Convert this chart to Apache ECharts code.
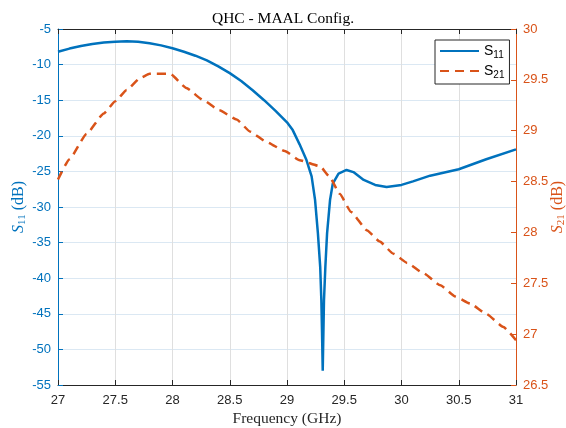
<!DOCTYPE html>
<html><head><meta charset="utf-8">
<script src="https://cdn.jsdelivr.net/npm/echarts@6/dist/echarts.min.js"></script>
<style>html,body{margin:0;padding:0;background:#fff}#c{width:566px;height:428px}</style>
</head><body><div id="c"></div>
<script>
const titleText = 'QHC - MAAL Config.';
const xTicks = [27, 27.5, 28, 28.5, 29, 29.5, 30, 30.5, 31];
const s11Freq = [27.0,27.1,27.2,27.3,27.4,27.5,27.6,27.7,27.8,27.9,28.0,28.1,28.2,28.3,28.4,28.5,28.6,28.7,28.8,28.9,29.0,29.05,29.11,29.17,29.215,29.245,29.27,29.29,29.30,29.306,29.312,29.323,29.335,29.35,29.376,29.40,29.45,29.52,29.58,29.67,29.77,29.87,30.0,30.1,30.25,30.5,30.74,31.0];
const s11Vals = [-8.2,-7.75,-7.4,-7.1,-6.9,-6.78,-6.73,-6.8,-7.0,-7.3,-7.7,-8.2,-8.75,-9.4,-10.25,-11.2,-12.3,-13.6,-15.0,-16.5,-18.1,-19.2,-21.2,-23.4,-25.7,-29.0,-33.7,-38.4,-43.1,-47.7,-53.0,-43.1,-38.4,-33.7,-29.0,-26.7,-25.3,-24.8,-25.1,-26.2,-26.9,-27.2,-26.9,-26.4,-25.6,-24.7,-23.3,-21.9];
const s21Freq = [27.0,27.1,27.25,27.4,27.5,27.6,27.72,27.8,27.98,28.12,28.27,28.41,28.56,28.68,28.82,28.98,29.11,29.29,29.37,29.46,29.56,29.7,29.81,29.93,30.05,30.19,30.34,30.47,30.6,30.74,30.89,31.0];
const s21Vals = [28.52,28.72,28.97,29.17,29.29,29.4,29.52,29.56,29.56,29.42,29.30,29.20,29.11,28.99,28.89,28.80,28.71,28.65,28.55,28.38,28.20,28.02,27.91,27.79,27.70,27.60,27.48,27.37,27.30,27.20,27.07,26.94];

const blue = '#0072BD', orange = '#D95319', dark = '#262626';
const s11 = s11Freq.map((f,i)=>[f, s11Vals[i]]);
const s21 = s21Freq.map((f,i)=>[f, s21Vals[i]]);
const chart = echarts.init(document.getElementById('c'));
const subRich = (color) => ({
  it:{fontFamily:'Liberation Serif', fontStyle:'italic', fontSize:16, color:color},
  sub:{fontFamily:'Liberation Serif', fontSize:11, color:color, padding:[7,0,0,0]},
  n:{fontFamily:'Liberation Serif', fontSize:16, color:color}
});
chart.setOption({
  animation:false,
  title:{text:titleText, left:'center', top:6, textStyle:{fontFamily:'Liberation Serif', fontWeight:'normal', fontSize:15.5, color:'#000'}},
  grid:{left:58, right:50, top:29, bottom:43, outerBoundsMode:'none', containLabel:false},
  legend:{
    data:['S11','S21'], orient:'vertical', left:435, top:40,
    backgroundColor:'#fff', borderColor:dark, borderWidth:1, borderRadius:0,
    padding:[4,5,4,4], itemGap:4, itemWidth:39, itemHeight:16,
    itemStyle:{opacity:0},
    formatter:(n)=>'{s|S}{sub|'+n.slice(1)+'}',
    textStyle:{rich:{s:{fontFamily:'Liberation Sans', fontSize:14, color:'#000'}, sub:{fontFamily:'Liberation Sans', fontSize:10, color:'#000', padding:[8,0,0,0]}}}
  },
  xAxis:[{
    type:'value', min:27, max:31, interval:0.5, position:'bottom',
    name:'Frequency (GHz)', nameLocation:'middle', nameGap:26, nameMoveOverlap:false,
    nameTextStyle:{fontFamily:'Liberation Serif', fontSize:15.5, color:dark},
    axisLine:{lineStyle:{color:dark, width:1}},
    axisTick:{inside:true, length:5, lineStyle:{color:dark}},
    axisLabel:{fontFamily:'Liberation Sans', fontSize:13, color:dark, margin:9, formatter:(v)=>String(v)},
    splitLine:{show:true, lineStyle:{color:'#dfdfdf', width:1}}
  },{
    type:'value', min:27, max:31, interval:0.5, position:'top',
    axisLine:{show:true, lineStyle:{color:dark, width:1}},
    axisTick:{show:true, inside:true, length:5, lineStyle:{color:dark}},
    axisLabel:{show:false}, splitLine:{show:false}
  }],
  yAxis:[{
    type:'value', min:-55, max:-5, interval:5, position:'left',
    name:'{it|S}{sub|11}{n| (dB)}', nameLocation:'middle', nameGap:30, nameRotate:90, nameMoveOverlap:false,
    nameTextStyle:{rich:subRich(blue)},
    axisLine:{show:true, lineStyle:{color:blue, width:1}},
    axisTick:{show:true, inside:true, length:5, lineStyle:{color:blue}},
    axisLabel:{fontFamily:'Liberation Sans', fontSize:13, color:blue, margin:7},
    splitLine:{show:true, lineStyle:{color:'#dbe8f3', width:1}}
  },{
    type:'value', min:26.5, max:30, interval:0.5, position:'right',
    name:'{it|S}{sub|21}{n| (dB)}', nameLocation:'middle', nameGap:33, nameRotate:90, nameMoveOverlap:false,
    nameTextStyle:{rich:subRich(orange)},
    axisLine:{show:true, lineStyle:{color:orange, width:1}},
    axisTick:{show:true, inside:true, length:5, lineStyle:{color:orange}},
    axisLabel:{fontFamily:'Liberation Sans', fontSize:13, color:orange, margin:7},
    splitLine:{show:false}
  }],
  series:[{
    name:'S11', type:'line', xAxisIndex:0, yAxisIndex:0, data:s11, showSymbol:false, symbol:'none',
    smooth:false,
    lineStyle:{color:blue, width:2.5}, itemStyle:{color:blue}
  },{
    name:'S21', type:'line', xAxisIndex:0, yAxisIndex:1, data:s21, showSymbol:false, symbol:'none',
    smooth:0.15, smoothMonotone:'x',
    lineStyle:{color:orange, width:2.5, type:[9,6]}, itemStyle:{color:orange}
  }]
});
</script></body></html>
